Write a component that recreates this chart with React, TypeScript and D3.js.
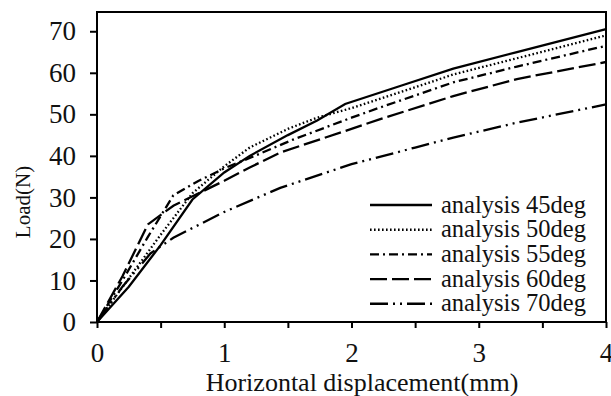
import React, { useEffect, useRef } from 'react';
import * as d3 from 'd3';

const width = 611;
const height = 396;
const margin = { top: 10.5, right: 5, bottom: 74, left: 97 };

// Horizontal displacement (mm) vs load (N)
const d45 = [0, 0.25, 0.5, 0.75, 1, 1.2, 1.5, 1.73, 1.95, 2.4, 2.8, 3.3, 4];
const l45 = [0, 8.5, 18.5, 29.5, 36, 40, 45, 48.5, 52.5, 57, 61, 65, 70.5];

const d50 = [0, 0.25, 0.5, 0.75, 1, 1.2, 1.5, 1.73, 2, 2.5, 2.8, 3.3, 4];
const l50 = [0, 10.5, 21, 31, 37.5, 42, 46.5, 49.2, 51.5, 56.5, 59.6, 63.5, 69];

const d55 = [0, 0.2, 0.4, 0.6, 0.8, 1, 1.2, 1.54, 2, 2.22, 2.8, 3.3, 4];
const l55 = [0, 10, 20.5, 30.5, 34, 37, 39.5, 43.9, 49.2, 51.6, 57.7, 61.5, 66.5];

const d60 = [0, 0.2, 0.4, 0.6, 1, 1.2, 1.44, 2, 2.22, 2.8, 3.3, 4];
const l60 = [0, 11, 23.5, 28, 34, 37.2, 40.8, 46.5, 48.8, 54.4, 58.5, 62.6];

const d70 = [0, 0.2, 0.42, 0.6, 1, 1.44, 2, 2.5, 2.8, 3.3, 4];
const l70 = [0, 8.5, 16.5, 20.3, 26.5, 32.3, 38, 42, 44.4, 48, 52.4];

const names = ['analysis 45deg', 'analysis 50deg', 'analysis 55deg', 'analysis 60deg', 'analysis 70deg'];
const dashes = ['none', '1.6,2.4', '9,4,2,4', '17,5', '18,5,2,5,2,5'];

const xTicks = [0, 0.5, 1, 1.5, 2, 2.5, 3, 3.5, 4];
const yTicks = [0, 10, 20, 30, 40, 50, 60, 70];

const series = [
  { d: d45, l: l45 },
  { d: d50, l: l50 },
  { d: d55, l: l55 },
  { d: d60, l: l60 },
  { d: d70, l: l70 },
];

const font = '"Liberation Serif", "Times New Roman", serif';

const x = d3.scaleLinear().domain([0, 4]).range([margin.left, width - margin.right]);
const y = d3.scaleLinear().domain([0, 75]).range([height - margin.bottom, margin.top]);

const line = d3.line<[number, number]>().x(p => x(p[0])).y(p => y(p[1]));

const App = () => {
  const xAxisRef = useRef<SVGGElement>(null);
  const yAxisRef = useRef<SVGGElement>(null);

  useEffect(() => {
    const xAxis = d3.axisBottom(x).tickValues(xTicks).tickSize(6).tickPadding(15)
      .tickFormat(d => (Number(d) % 1 === 0 ? `${d}` : ''));
    const yAxis = d3.axisLeft(y).tickValues(yTicks).tickSize(7).tickPadding(14);

    const gx = d3.select(xAxisRef.current!).call(xAxis);
    gx.select('.domain').remove();
    gx.selectAll('line').attr('stroke', '#000').attr('stroke-width', 2);
    gx.selectAll('text').attr('font-family', font).attr('font-size', 27).attr('fill', '#111');

    const gy = d3.select(yAxisRef.current!).call(yAxis);
    gy.select('.domain').remove();
    gy.selectAll('line').attr('stroke', '#000').attr('stroke-width', 2);
    gy.selectAll('text').attr('font-family', font).attr('font-size', 27).attr('fill', '#111');
  }, []);

  const x0 = margin.left;
  const x1 = width - margin.right;
  const y0 = height - margin.bottom;
  const y1 = margin.top + 1.5;

  return (
    <svg width={width} height={height} style={{ position: 'absolute', left: 0, top: 0, background: '#fff' }}>
      <rect width={width} height={height} fill="#fff" />
      {series.map((s, i) => (
        <path key={i}
          d={line(s.d.map((v, j) => [v, s.l[j]] as [number, number])) || ''}
          fill="none" stroke="#000" strokeWidth={2.3}
          strokeDasharray={dashes[i]} />
      ))}
      <g ref={xAxisRef} transform={`translate(0, ${y0})`} />
      <g ref={yAxisRef} transform={`translate(${x0}, 0)`} />
      <path d={`M${x0},${y0}H${x1}V${y1}H${x0}Z`} fill="none" stroke="#000" strokeWidth={2} />

      <g fontFamily={font} fontSize={24.5} fill="#111">
        {names.map((n, i) => {
          const ly = 205 + i * 24.7;
          return (
            <g key={n}>
              <line x1={370} x2={432} y1={ly} y2={ly} stroke="#000" strokeWidth={2.4} strokeDasharray={dashes[i]} />
              <text x={441} y={ly + 7.5}>{n}</text>
            </g>
          );
        })}
      </g>

      <text x={362} y={391} textAnchor="middle" fontFamily={font} fontSize={26} fill="#111">
        Horizontal displacement(mm)
      </text>
      <text transform="translate(30, 202) rotate(-90)" textAnchor="middle" fontFamily={font} fontSize={21} fill="#111">
        Load(N)
      </text>
    </svg>
  );
};

export default App;
